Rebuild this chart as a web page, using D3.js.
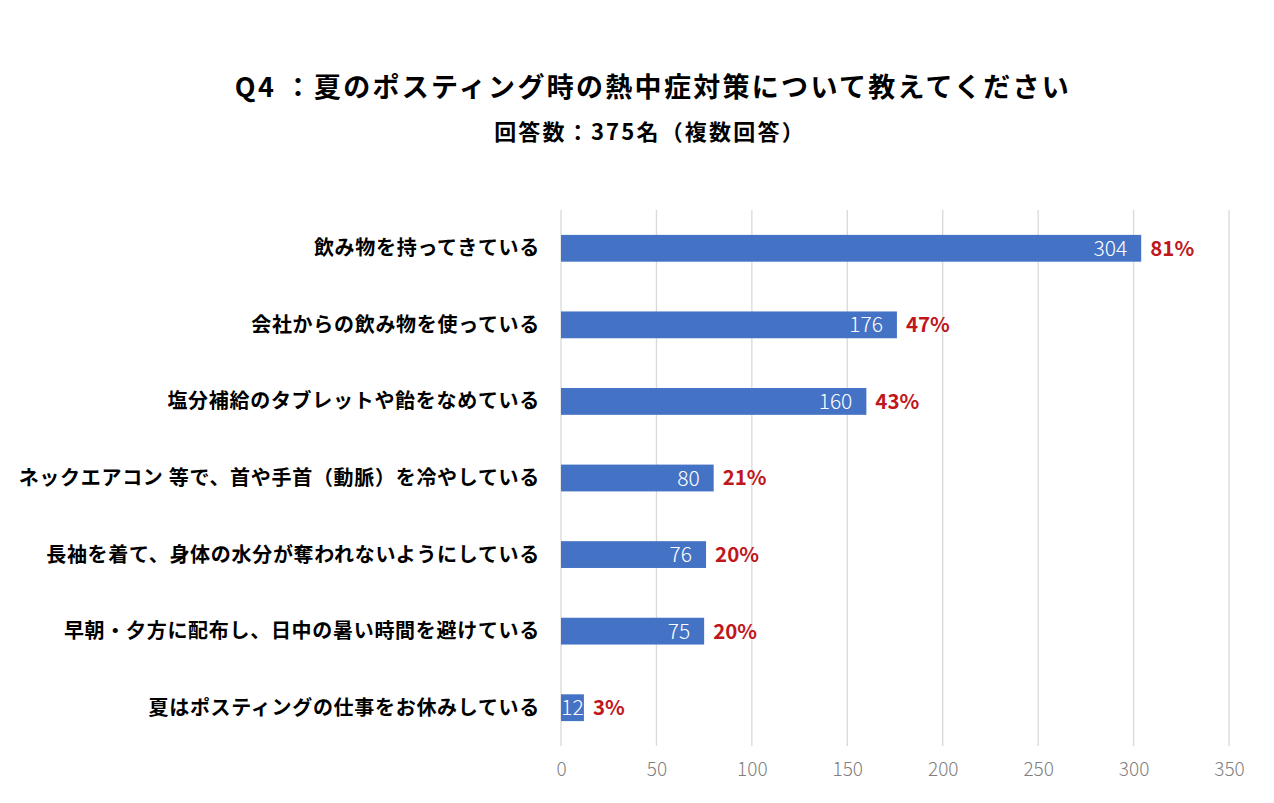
<!DOCTYPE html>
<html><head><meta charset="utf-8">
<script src="https://cdn.jsdelivr.net/npm/d3@7"></script>
<style>body{margin:0;background:#fff}svg{display:block}</style>
</head><body>
<script>
const categories = [
  "飲み物を持ってきている",
  "会社からの飲み物を使っている",
  "塩分補給のタブレットや飴をなめている",
  "ネックエアコン 等で、首や手首（動脈）を冷やしている",
  "長袖を着て、身体の水分が奪われないようにしている",
  "早朝・夕方に配布し、日中の暑い時間を避けている",
  "夏はポスティングの仕事をお休みしている"
];
const counts = [304, 176, 160, 80, 76, 75, 12];
const percents = ["81%", "47%", "43%", "21%", "20%", "20%", "3%"];
const ticks = [0, 50, 100, 150, 200, 250, 300, 350];
const title = "Q4 ：夏のポスティング時の熱中症対策について教えてください";
const subtitle = "回答数：375名（複数回答）";

const W = 1274, H = 803;
const font = "'Noto Sans CJK JP', 'Noto Sans', sans-serif";
const svg = d3.select("body").append("svg").attr("width", W).attr("height", H);

const x = d3.scaleLinear().domain([0, 350]).range([561, 1229]);
const y = d3.scaleBand().domain(categories).range([210, 746]).paddingInner(0.65).paddingOuter(0.325);

svg.append("text").attr("x", 653).attr("y", 97).attr("text-anchor", "middle")
  .attr("font-family", font).attr("font-weight", 700).attr("font-size", 27)
  .attr("letter-spacing", 2.3).attr("fill", "#000").text(title);
svg.append("text").attr("x", 650).attr("y", 140).attr("text-anchor", "middle")
  .attr("font-family", font).attr("font-weight", 700).attr("font-size", 22)
  .attr("letter-spacing", 2.2).attr("fill", "#000").text(subtitle);

// grid
svg.append("g").selectAll("line").data(ticks).join("line")
  .attr("x1", d => x(d)).attr("x2", d => x(d)).attr("y1", 210).attr("y2", 746)
  .attr("stroke", "#d9d9d9").attr("stroke-width", 1.3);

// axis
const axis = svg.append("g").attr("transform", "translate(0,746)")
  .call(d3.axisBottom(x).tickValues(ticks).tickSize(0).tickPadding(17));
axis.select(".domain").remove();
axis.selectAll("text").attr("font-family", font).attr("font-weight", 300).attr("font-size", 19).attr("fill", "#7f7f7f");

// bars
svg.append("g").selectAll("rect").data(counts).join("rect")
  .attr("x", x(0)).attr("y", (d, i) => y(categories[i]))
  .attr("width", d => x(d) - x(0)).attr("height", y.bandwidth())
  .attr("fill", "#4472c4");

// category labels
svg.append("g").selectAll("text").data(categories).join("text")
  .attr("x", 540).attr("y", d => y(d) + y.bandwidth() / 2).attr("dy", "0.35em")
  .attr("text-anchor", "end").attr("font-family", font).attr("font-weight", 700)
  .attr("font-size", 20).attr("letter-spacing", 0.7).attr("fill", "#000").text(d => d);

// value labels
svg.append("g").selectAll("text").data(counts).join("text")
  .attr("x", d => d < 20 ? (x(0) + x(d)) / 2 : x(d) - 14)
  .attr("y", (d, i) => y(categories[i]) + y.bandwidth() / 2).attr("dy", "0.36em")
  .attr("text-anchor", d => d < 20 ? "middle" : "end").attr("font-family", font).attr("font-weight", 300)
  .attr("font-size", 21).attr("fill", "#fff").text(d => d);

// percent labels
svg.append("g").selectAll("text").data(percents).join("text")
  .attr("x", (d, i) => x(counts[i]) + 9).attr("y", (d, i) => y(categories[i]) + y.bandwidth() / 2).attr("dy", "0.36em")
  .attr("text-anchor", "start").attr("font-family", font).attr("font-weight", 700)
  .attr("font-size", 20.5).attr("fill", "#c0171c").text(d => d);
</script>
</body></html>
